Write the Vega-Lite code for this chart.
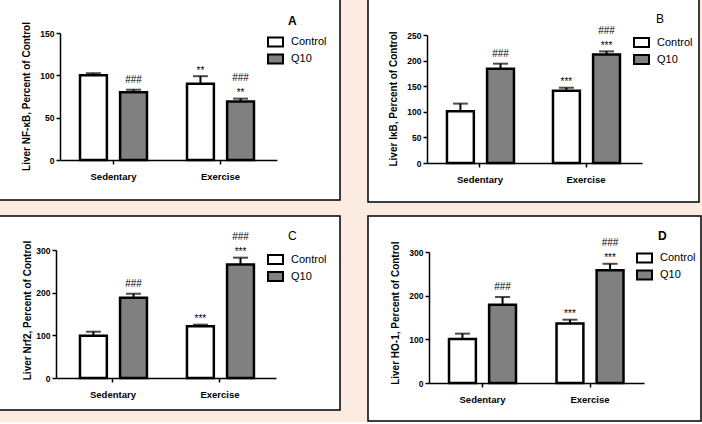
{
  "$schema": "https://vega.github.io/schema/vega-lite/v6.json",
  "background": "#fcebe0",
  "padding": {"left": -2, "top": -2, "right": 0, "bottom": 0},
  "config": {
    "font": "Liberation Sans",
    "view": {"fill": "white", "stroke": "black", "strokeWidth": 1.5},
    "axis": {"grid": false, "domainColor": "black", "domainWidth": 1.5, "tickColor": "black", "tickWidth": 1.5, "tickSize": 4, "labelColor": "black", "labelFontWeight": "bold", "titleColor": "black", "titleFontWeight": "bold", "titleFontSize": 10},
    "axisX": {"labelFontSize": 9.5, "labelPadding": 7, "labelAngle": 0, "title": null},
    "axisY": {"labelFontSize": 8.5, "labelPadding": 2, "titleAngle": -90, "titleBaseline": "alphabetic", "titleAlign": "center"},
    "legend": {"symbolType": "M-1,-0.6H1V0.6H-1Z", "symbolSize": 225, "symbolStrokeColor": "black", "symbolStrokeWidth": 2, "labelFontSize": 11, "labelColor": "black", "labelOffset": 7, "rowPadding": 0, "padding": 0, "title": null},
    "title": {"color": "black", "fontSize": 12, "anchor": "start", "frame": "group", "baseline": "middle"}
  },
  "columns": 2,
  "spacing": {"row": 14, "column": 28},
  "bounds": "flush",
  "align": "each",
  "resolve": {"scale": {"fill": "independent"}, "legend": {"fill": "independent"}},
  "concat": [
    {
      "width": 341, "height": 201,
      "title": {"text": "A", "dx": 289, "offset": -29, "fontWeight": "bold"},
      "data": {"values": [
        {"group": "Sedentary", "treatment": "Control", "value": 100, "upper": 102.5, "stars": "", "hash": ""},
        {"group": "Sedentary", "treatment": "Q10", "value": 80, "upper": 83, "stars": "", "hash": "###"},
        {"group": "Exercise", "treatment": "Control", "value": 90, "upper": 99, "stars": "**", "hash": ""},
        {"group": "Exercise", "treatment": "Q10", "value": 69, "upper": 72.5, "stars": "**", "hash": "###"}
      ]},
      "encoding": {
        "x": {"field": "group", "type": "nominal", "sort": ["Sedentary", "Exercise"], "scale": {"range": [61, 278], "paddingInner": 0.374, "paddingOuter": 0.201, "align": 0.465}, "axis": {"offset": -40}},
        "xOffset": {"field": "treatment", "type": "nominal", "sort": ["Control", "Q10"], "scale": {"paddingInner": 0.33, "paddingOuter": 0}}
      },
      "layer": [
        {"mark": {"type": "bar", "stroke": "black", "strokeWidth": 2.5},
         "encoding": {
           "y": {"field": "value", "type": "quantitative", "scale": {"domain": [0, 150], "range": [161, 34], "nice": false}, "axis": {"offset": -61, "values": [0, 50, 100, 150], "title": "Liver NF-κB, Percent of Control", "titleX": -30.5, "titleY": 97}},
           "fill": {"field": "treatment", "type": "nominal", "scale": {"domain": ["Control", "Q10"], "range": ["#ffffff", "#808080"]}, "legend": {"orient": "none", "legendX": 268, "legendY": 34.5}}
         }},
        {"mark": {"type": "rule", "strokeWidth": 2, "color": "black"}, "encoding": {"y": {"field": "value", "type": "quantitative"}, "y2": {"field": "upper"}}},
        {"mark": {"type": "tick", "size": 15, "thickness": 2, "color": "black"}, "encoding": {"y": {"field": "upper", "type": "quantitative"}}},
        {"transform": [{"filter": "datum.stars != ''"}], "mark": {"type": "text", "fontSize": 10, "baseline": "alphabetic", "dy": -2.5, "color": "black"}, "encoding": {"y": {"field": "upper", "type": "quantitative"}, "text": {"field": "stars"}}},
        {"transform": [{"filter": "datum.hash != '' && datum.stars == ''"}], "mark": {"type": "text", "fontSize": 10, "baseline": "alphabetic", "dy": -7, "color": "black"}, "encoding": {"y": {"field": "upper", "type": "quantitative"}, "text": {"field": "hash"}}},
        {"transform": [{"filter": "datum.hash != '' && datum.stars != ''"}], "mark": {"type": "text", "fontSize": 10, "baseline": "alphabetic", "dy": -17.5, "color": "black"}, "encoding": {"y": {"field": "upper", "type": "quantitative"}, "text": {"field": "hash"}}}
      ]
    },
    {
      "width": 331, "height": 203,
      "title": {"text": "B", "dx": 288, "offset": -27, "fontWeight": "normal"},
      "data": {"values": [
        {"group": "Sedentary", "treatment": "Control", "value": 101, "upper": 116, "stars": "", "hash": ""},
        {"group": "Sedentary", "treatment": "Q10", "value": 184, "upper": 194, "stars": "", "hash": "###"},
        {"group": "Exercise", "treatment": "Control", "value": 141, "upper": 147, "stars": "***", "hash": ""},
        {"group": "Exercise", "treatment": "Q10", "value": 212, "upper": 218, "stars": "***", "hash": "###"}
      ]},
      "encoding": {
        "x": {"field": "group", "type": "nominal", "sort": ["Sedentary", "Exercise"], "scale": {"range": [59, 274], "paddingInner": 0.377, "paddingOuter": 0.2025, "align": 0.465}, "axis": {"offset": -39}},
        "xOffset": {"field": "treatment", "type": "nominal", "sort": ["Control", "Q10"], "scale": {"paddingInner": 0.33, "paddingOuter": 0}}
      },
      "layer": [
        {"mark": {"type": "bar", "stroke": "black", "strokeWidth": 2.5},
         "encoding": {
           "y": {"field": "value", "type": "quantitative", "scale": {"domain": [0, 250], "range": [164, 36], "nice": false}, "axis": {"offset": -59, "values": [0, 50, 100, 150, 200, 250], "title": "Liver IκB, Percent of Control", "titleX": -31, "titleY": 99.5}},
           "fill": {"field": "treatment", "type": "nominal", "scale": {"domain": ["Control", "Q10"], "range": ["#ffffff", "#808080"]}, "legend": {"orient": "none", "legendX": 265, "legendY": 35}}
         }},
        {"mark": {"type": "rule", "strokeWidth": 2, "color": "black"}, "encoding": {"y": {"field": "value", "type": "quantitative"}, "y2": {"field": "upper"}}},
        {"mark": {"type": "tick", "size": 15, "thickness": 2, "color": "black"}, "encoding": {"y": {"field": "upper", "type": "quantitative"}}},
        {"transform": [{"filter": "datum.stars != ''"}], "mark": {"type": "text", "fontSize": 10, "baseline": "alphabetic", "dy": -2.5, "color": "black"}, "encoding": {"y": {"field": "upper", "type": "quantitative"}, "text": {"field": "stars"}}},
        {"transform": [{"filter": "datum.hash != '' && datum.stars == ''"}], "mark": {"type": "text", "fontSize": 10, "baseline": "alphabetic", "dy": -7, "color": "black"}, "encoding": {"y": {"field": "upper", "type": "quantitative"}, "text": {"field": "hash"}}},
        {"transform": [{"filter": "datum.hash != '' && datum.stars != ''"}], "mark": {"type": "text", "fontSize": 10, "baseline": "alphabetic", "dy": -17.5, "color": "black"}, "encoding": {"y": {"field": "upper", "type": "quantitative"}, "text": {"field": "hash"}}}
      ]
    },
    {
      "width": 341, "height": 194,
      "title": {"text": "C", "dx": 289, "offset": -27, "fontWeight": "normal"},
      "data": {"values": [
        {"group": "Sedentary", "treatment": "Control", "value": 99, "upper": 108.5, "stars": "", "hash": ""},
        {"group": "Sedentary", "treatment": "Q10", "value": 188, "upper": 197.5, "stars": "", "hash": "###"},
        {"group": "Exercise", "treatment": "Control", "value": 121, "upper": 125, "stars": "***", "hash": ""},
        {"group": "Exercise", "treatment": "Q10", "value": 266, "upper": 282, "stars": "***", "hash": "###"}
      ]},
      "encoding": {
        "x": {"field": "group", "type": "nominal", "sort": ["Sedentary", "Exercise"], "scale": {"range": [57, 277], "paddingInner": 0.383, "paddingOuter": 0.2196, "align": 0.51}, "axis": {"offset": -32}},
        "xOffset": {"field": "treatment", "type": "nominal", "sort": ["Control", "Q10"], "scale": {"paddingInner": 0.33, "paddingOuter": 0}}
      },
      "layer": [
        {"mark": {"type": "bar", "stroke": "black", "strokeWidth": 2.5},
         "encoding": {
           "y": {"field": "value", "type": "quantitative", "scale": {"domain": [0, 300], "range": [162, 34], "nice": false}, "axis": {"offset": -57, "values": [0, 100, 200, 300], "title": "Liver Nrf2, Percent of Control", "titleX": -26, "titleY": 94}},
           "fill": {"field": "treatment", "type": "nominal", "scale": {"domain": ["Control", "Q10"], "range": ["#ffffff", "#808080"]}, "legend": {"orient": "none", "legendX": 268, "legendY": 35}}
         }},
        {"mark": {"type": "rule", "strokeWidth": 2, "color": "black"}, "encoding": {"y": {"field": "value", "type": "quantitative"}, "y2": {"field": "upper"}}},
        {"mark": {"type": "tick", "size": 15, "thickness": 2, "color": "black"}, "encoding": {"y": {"field": "upper", "type": "quantitative"}}},
        {"transform": [{"filter": "datum.stars != ''"}], "mark": {"type": "text", "fontSize": 10, "baseline": "alphabetic", "dy": -2.5, "color": "black"}, "encoding": {"y": {"field": "upper", "type": "quantitative"}, "text": {"field": "stars"}}},
        {"transform": [{"filter": "datum.hash != '' && datum.stars == ''"}], "mark": {"type": "text", "fontSize": 10, "baseline": "alphabetic", "dy": -7, "color": "black"}, "encoding": {"y": {"field": "upper", "type": "quantitative"}, "text": {"field": "hash"}}},
        {"transform": [{"filter": "datum.hash != '' && datum.stars != ''"}], "mark": {"type": "text", "fontSize": 10, "baseline": "alphabetic", "dy": -17.5, "color": "black"}, "encoding": {"y": {"field": "upper", "type": "quantitative"}, "text": {"field": "hash"}}}
      ]
    },
    {
      "width": 333, "height": 205,
      "title": {"text": "D", "dx": 290, "offset": -27, "fontWeight": "bold"},
      "data": {"values": [
        {"group": "Sedentary", "treatment": "Control", "value": 101, "upper": 113, "stars": "", "hash": ""},
        {"group": "Sedentary", "treatment": "Q10", "value": 179, "upper": 197, "stars": "", "hash": "###"},
        {"group": "Exercise", "treatment": "Control", "value": 136, "upper": 145, "stars": "***", "hash": ""},
        {"group": "Exercise", "treatment": "Q10", "value": 258, "upper": 273, "stars": "***", "hash": "###"}
      ]},
      "encoding": {
        "x": {"field": "group", "type": "nominal", "sort": ["Sedentary", "Exercise"], "scale": {"range": [61, 276], "paddingInner": 0.377, "paddingOuter": 0.1884, "align": 0.494}, "axis": {"offset": -38}},
        "xOffset": {"field": "treatment", "type": "nominal", "sort": ["Control", "Q10"], "scale": {"paddingInner": 0.33, "paddingOuter": 0}}
      },
      "layer": [
        {"mark": {"type": "bar", "stroke": "black", "strokeWidth": 2.5},
         "encoding": {
           "y": {"field": "value", "type": "quantitative", "scale": {"domain": [0, 300], "range": [167, 36], "nice": false}, "axis": {"offset": -61, "values": [0, 100, 200, 300], "title": "Liver HO-1, Percent of Control", "titleX": -31, "titleY": 96.7}},
           "fill": {"field": "treatment", "type": "nominal", "scale": {"domain": ["Control", "Q10"], "range": ["#ffffff", "#808080"]}, "legend": {"orient": "none", "legendX": 268, "legendY": 33.5}}
         }},
        {"mark": {"type": "rule", "strokeWidth": 2, "color": "black"}, "encoding": {"y": {"field": "value", "type": "quantitative"}, "y2": {"field": "upper"}}},
        {"mark": {"type": "tick", "size": 15, "thickness": 2, "color": "black"}, "encoding": {"y": {"field": "upper", "type": "quantitative"}}},
        {"transform": [{"filter": "datum.stars != ''"}], "mark": {"type": "text", "fontSize": 10, "baseline": "alphabetic", "dy": -2.5, "color": "black"}, "encoding": {"y": {"field": "upper", "type": "quantitative"}, "text": {"field": "stars"}}},
        {"transform": [{"filter": "datum.hash != '' && datum.stars == ''"}], "mark": {"type": "text", "fontSize": 10, "baseline": "alphabetic", "dy": -7, "color": "black"}, "encoding": {"y": {"field": "upper", "type": "quantitative"}, "text": {"field": "hash"}}},
        {"transform": [{"filter": "datum.hash != '' && datum.stars != ''"}], "mark": {"type": "text", "fontSize": 10, "baseline": "alphabetic", "dy": -17.5, "color": "black"}, "encoding": {"y": {"field": "upper", "type": "quantitative"}, "text": {"field": "hash"}}}
      ]
    }
  ]
}
